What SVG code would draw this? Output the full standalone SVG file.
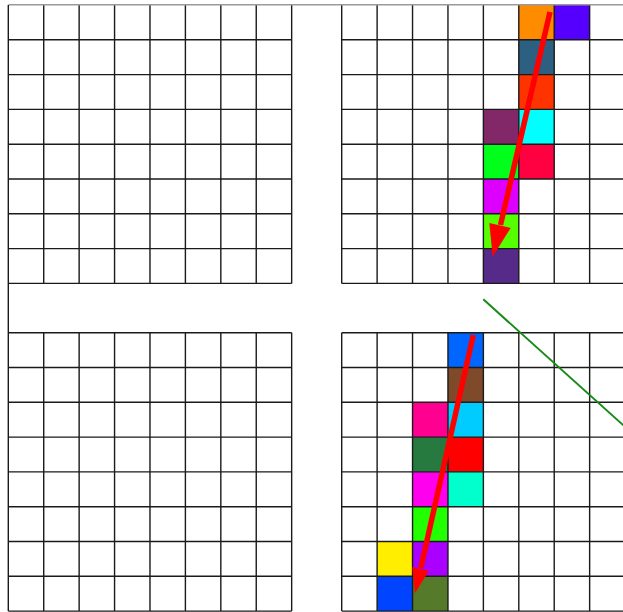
<svg xmlns="http://www.w3.org/2000/svg" width="623" height="612" viewBox="0 0 623 612">
<style>
.grid{fill:none;stroke:#1a1a1a;stroke-width:1.4}
.border{fill:none;stroke:#9a9a9a;stroke-width:1.4}
.arrow{stroke:#ff0000;stroke-width:5.5;fill:none}
.head{fill:#ff0000}
.diag{stroke:#168a16;stroke-width:2;fill:none}
</style>
<rect width="623" height="612" fill="#ffffff"/>
<g id="grid-top-left">
<path class="grid" d="M8.3 39.8H291.66M8.3 74.6H291.66M8.3 109.4H291.66M8.3 144.2H291.66M8.3 179H291.66M8.3 213.8H291.66M8.3 248.6H291.66M8.3 283.4H291.66M43.72 5V283.4M79.14 5V283.4M114.56 5V283.4M149.98 5V283.4M185.4 5V283.4M220.82 5V283.4M256.24 5V283.4M291.66 5V283.4"/>
</g>
<g id="grid-top-right">
<rect x="518.8" y="5" width="35.42" height="34.8" fill="#ff8c00"/>
<rect x="554.22" y="5" width="35.42" height="34.8" fill="#5500ff"/>
<rect x="518.8" y="39.8" width="35.42" height="34.8" fill="#2c5f80"/>
<rect x="518.8" y="74.6" width="35.42" height="34.8" fill="#ff3300"/>
<rect x="483.38" y="109.4" width="35.42" height="34.8" fill="#822868"/>
<rect x="518.8" y="109.4" width="35.42" height="34.8" fill="#00ffff"/>
<rect x="483.38" y="144.2" width="35.42" height="34.8" fill="#00ff1a"/>
<rect x="518.8" y="144.2" width="35.42" height="34.8" fill="#ff0040"/>
<rect x="483.38" y="179" width="35.42" height="34.8" fill="#dd00ff"/>
<rect x="483.38" y="213.8" width="35.42" height="34.8" fill="#55ff00"/>
<rect x="483.38" y="248.6" width="35.42" height="34.8" fill="#552a88"/>
<path class="grid" d="M341.7 39.8H625M341.7 74.6H625M341.7 109.4H625M341.7 144.2H625M341.7 179H625M341.7 213.8H625M341.7 248.6H625M341.7 283.4H625M341.7 5V283.4M377.12 5V283.4M412.54 5V283.4M447.96 5V283.4M483.38 5V283.4M518.8 5V283.4M554.22 5V283.4M589.64 5V283.4"/>
</g>
<g id="grid-bottom-left">
<path class="grid" d="M8.3 332.7H291.66M8.3 367.5H291.66M8.3 402.3H291.66M8.3 437.1H291.66M8.3 471.9H291.66M8.3 506.7H291.66M8.3 541.5H291.66M8.3 576.3H291.66M8.3 611.1H291.66M43.72 332.7V611.1M79.14 332.7V611.1M114.56 332.7V611.1M149.98 332.7V611.1M185.4 332.7V611.1M220.82 332.7V611.1M256.24 332.7V611.1M291.66 332.7V611.1"/>
</g>
<g id="grid-bottom-right">
<rect x="447.96" y="332.7" width="35.42" height="34.8" fill="#0066ff"/>
<rect x="447.96" y="367.5" width="35.42" height="34.8" fill="#7f4a2a"/>
<rect x="412.54" y="402.3" width="35.42" height="34.8" fill="#ff0090"/>
<rect x="447.96" y="402.3" width="35.42" height="34.8" fill="#00ccff"/>
<rect x="412.54" y="437.1" width="35.42" height="34.8" fill="#267a40"/>
<rect x="447.96" y="437.1" width="35.42" height="34.8" fill="#ff0000"/>
<rect x="412.54" y="471.9" width="35.42" height="34.8" fill="#ff00ee"/>
<rect x="447.96" y="471.9" width="35.42" height="34.8" fill="#00ffcc"/>
<rect x="412.54" y="506.7" width="35.42" height="34.8" fill="#22ff00"/>
<rect x="377.12" y="541.5" width="35.42" height="34.8" fill="#ffee00"/>
<rect x="412.54" y="541.5" width="35.42" height="34.8" fill="#aa00ff"/>
<rect x="377.12" y="576.3" width="35.42" height="34.8" fill="#0044ff"/>
<rect x="412.54" y="576.3" width="35.42" height="34.8" fill="#557a2a"/>
<path class="grid" d="M341.7 332.7H625M341.7 367.5H625M341.7 402.3H625M341.7 437.1H625M341.7 471.9H625M341.7 506.7H625M341.7 541.5H625M341.7 576.3H625M341.7 611.1H625M341.7 332.7V611.1M377.12 332.7V611.1M412.54 332.7V611.1M447.96 332.7V611.1M483.38 332.7V611.1M518.8 332.7V611.1M554.22 332.7V611.1M589.64 332.7V611.1"/>
</g>
<g id="frame">
<path class="border" d="M8.3 4.8H623"/>
<path class="grid" d="M8.3 5V611.1"/>
</g>
<g id="connectors">
<path class="arrow" d="M550 12L500.5 225"/>
<polygon class="head" points="492.7,256.7 510.7,228 489.3,223"/>
<path class="arrow" d="M473.3 335L420.8 568"/>
<polygon class="head" points="415,593.3 428.8,570.8 412.2,567"/>
<path class="diag" d="M483.3 299.3L640 440.3"/>
</g>
</svg>
